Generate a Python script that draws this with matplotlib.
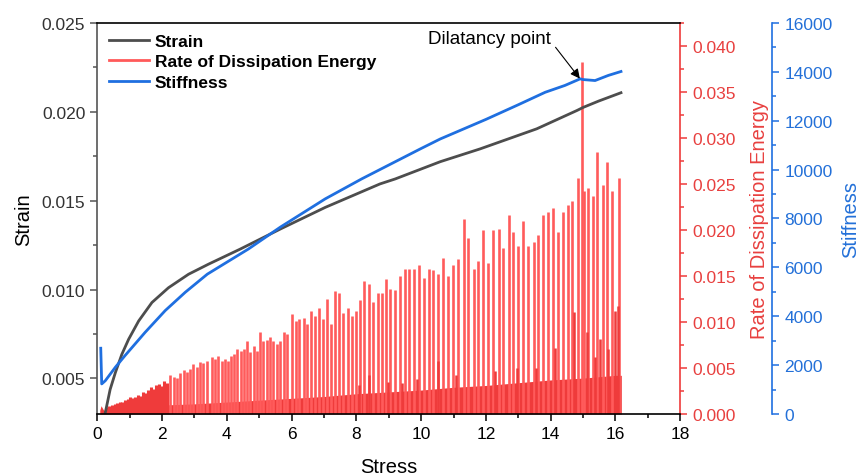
import numpy as np
import matplotlib
matplotlib.use('Agg')
import matplotlib.pyplot as plt
from matplotlib.lines import Line2D
from matplotlib.ticker import MultipleLocator, FormatStrFormatter

plt.rcParams['font.family'] = ['Liberation Sans', 'DejaVu Sans']

# strain curve (left axis)
strain_x = [0.25, 0.40, 0.56, 0.76, 0.97, 1.28, 1.69, 2.20, 2.82, 3.44, 4.41, 5.65,
            7.04, 8.73, 9.20, 10.59, 11.82, 13.57, 14.81, 15.01, 15.48, 16.17]
strain_y = [0.00307, 0.00438, 0.00532, 0.00635, 0.0072, 0.00823, 0.00927, 0.0101,
            0.01086, 0.01143, 0.01227, 0.0134, 0.01462, 0.01594, 0.01622, 0.01719,
            0.01791, 0.01904, 0.02007, 0.02025, 0.0206, 0.02107]

# stiffness curve (outer right axis)
stiff_x = [0.11, 0.14, 0.25, 0.56, 0.86, 1.48, 2.10, 2.72, 3.40, 4.67, 5.65, 7.04,
           8.17, 9.97, 10.59, 12.0, 13.0, 13.83, 14.44, 14.91, 15.0, 15.37, 15.78, 16.17]
stiff_y = [2690, 1230, 1360, 1910, 2390, 3340, 4230, 4980, 5720, 6750, 7640, 8800,
           9620, 10840, 11250, 12050, 12650, 13160, 13440, 13710, 13680, 13640, 13850, 14010]

# rate of dissipation energy: lower dense band
base_x = [0.08, 0.12, 0.2, 0.5, 1.0, 1.5, 2.2, 3.0, 4.0, 5.0,
          6.0, 7.0, 8.0, 9.0, 10.0, 11.0, 12.0, 13.0, 14.0, 15.0, 16.0, 16.18]
base_y = [0.0004, 0.0009, 0.0004, 0.0006, 0.0009, 0.0010, 0.0010, 0.0011, 0.0013,
          0.0015, 0.0017, 0.0019, 0.0022, 0.0024, 0.0026, 0.0029, 0.0031, 0.0034,
          0.0037, 0.0039, 0.0042, 0.0042]

# early, closely packed bursts
early_x = [0.30, 0.38, 0.46, 0.54, 0.62, 0.70, 0.78, 0.86, 0.94, 1.02, 1.10, 1.18,
           1.26, 1.34, 1.42, 1.50, 1.58, 1.66, 1.74, 1.82, 1.90, 1.98, 2.06, 2.14]
early_y = [0.0008, 0.0009, 0.0010, 0.0011, 0.0012, 0.0013, 0.0013, 0.0015, 0.0016,
           0.0018, 0.0017, 0.0019, 0.0021, 0.0020, 0.0024, 0.0023, 0.0026, 0.0029,
           0.0027, 0.0031, 0.0033, 0.0030, 0.0036, 0.0034]

# rate of dissipation energy: spike peaks
spike_x = [2.25, 2.36, 2.46, 2.56, 2.67, 2.77, 2.87, 2.97, 3.08, 3.18, 3.28, 3.38,
           3.54, 3.64, 3.74, 3.85, 3.95, 4.05, 4.13, 4.23, 4.33, 4.43, 4.54, 4.62,
           4.72, 4.83, 4.93, 5.03, 5.13, 5.24, 5.34, 5.44, 5.55, 5.65, 5.77, 5.87,
           6.01, 6.14, 6.24, 6.37, 6.47, 6.59, 6.73, 6.85, 6.97, 7.09,
           7.22, 7.35, 7.47, 7.60, 7.73, 7.86, 7.99, 8.12, 8.25, 8.38, 8.53, 8.66,
           8.79, 8.92, 9.05, 9.20, 9.35, 9.51, 9.64, 9.79, 9.95, 10.09, 10.24, 10.38,
           10.53, 10.69, 10.82, 10.98, 11.15, 11.31, 11.46, 11.62, 11.77, 11.92,
           12.08, 12.23, 12.39, 12.54, 12.70, 12.85, 13.00, 13.16, 13.31, 13.47,
           13.62, 13.77, 13.93, 14.08, 14.22, 14.37, 14.53, 14.67, 14.83, 14.96,
           15.04, 15.14, 15.32, 15.44, 15.60, 15.73, 15.88, 16.10]
spike_y = [0.0042, 0.0040, 0.0039, 0.0044, 0.0048, 0.0046, 0.0049, 0.0054, 0.0051,
           0.0056, 0.0055, 0.0058,
           0.00616, 0.00598, 0.00634, 0.00580, 0.00598, 0.00580, 0.00634, 0.00652,
           0.00707, 0.00688, 0.00707, 0.00797, 0.00670, 0.00743, 0.00688, 0.00888,
           0.00797, 0.00808, 0.00833, 0.00797, 0.00761, 0.00797, 0.00888, 0.00870,
           0.01087, 0.01015, 0.01033, 0.01040, 0.00978, 0.01123, 0.01069, 0.01149,
           0.01033, 0.0125,
           0.0098, 0.0134, 0.0131, 0.0110, 0.0115, 0.0107, 0.0112, 0.0124, 0.0145,
           0.0141, 0.0122, 0.0132, 0.0132, 0.0147, 0.0136, 0.0135, 0.0150, 0.0157,
           0.0158, 0.0157, 0.0162, 0.0148, 0.0157, 0.0156, 0.0152, 0.0170,
           0.0150, 0.0162, 0.0168, 0.0212, 0.0191, 0.0157, 0.0166, 0.0200, 0.0164,
           0.0200, 0.0201, 0.0180, 0.0216, 0.0198, 0.0182, 0.0210, 0.0182, 0.0187,
           0.0194, 0.0216, 0.0219,
           0.0224, 0.0198, 0.0220, 0.0227, 0.0231, 0.0256, 0.0382, 0.0242,
           0.0246, 0.0237, 0.0285, 0.0249, 0.0274, 0.0242, 0.0256]

# smaller secondary bursts
minor_x = [8.07, 8.38, 8.97, 9.42, 9.86, 10.53, 11.07, 12.28, 12.97, 13.54, 14.14,
           14.73, 15.11, 15.37, 15.52, 15.78, 15.99, 16.07]
minor_y = [0.0031, 0.0042, 0.0035, 0.0034, 0.0038, 0.0058, 0.0042, 0.0047, 0.0050,
           0.0050, 0.0072, 0.0111, 0.0089, 0.0062, 0.0082, 0.0071, 0.0112, 0.0117]

GREY = '#4d4d4d'
RED = '#ef3b3b'
SPIKE = '#ff5b5b'
BLUE = '#1f6fe0'
RED_TXT = '#e8403f'
BLUE_TXT = '#2370d8'

fig = plt.figure(figsize=(8.6, 4.77), dpi=100)
ax = fig.add_subplot(111)
fig.subplots_adjust(left=0.113, right=0.791, bottom=0.13, top=0.95)
ax2 = ax.twinx()
ax3 = ax.twinx()

ax2.set_zorder(1)
ax.set_zorder(2)
ax3.set_zorder(3)
for a in (ax, ax2, ax3):
    a.patch.set_visible(False)

# red series
ax2.fill_between(base_x, 0, base_y, color=RED, lw=0)
ax2.vlines(early_x, 0, early_y, color=RED, lw=2.2)
ax2.vlines(spike_x, 0, spike_y, color=SPIKE, lw=1.9)
ax2.vlines(minor_x, 0, minor_y, color=RED, lw=1.8)
ax2.set_ylim(0, 0.0425)

# strain
ax.plot(strain_x, strain_y, color=GREY, lw=2)
ax.set_xlim(0, 18)
ax.set_ylim(0.003, 0.025)

# stiffness
ax3.plot(stiff_x, stiff_y, color=BLUE, lw=2)
ax3.set_ylim(0, 16000)
ax3.spines['right'].set_position(('axes', 1.158))

# spines
for s in ('left', 'top', 'bottom'):
    ax2.spines[s].set_visible(False)
    ax3.spines[s].set_visible(False)
ax.spines['right'].set_visible(False)
ax2.spines['right'].set_color(RED)
ax3.spines['right'].set_color(BLUE)
ax.spines['left'].set_color('#555555')
for a in (ax, ax2, ax3):
    for s in a.spines.values():
        s.set_linewidth(1.2)

# ticks
ax.xaxis.set_major_locator(MultipleLocator(2))
ax.xaxis.set_minor_locator(MultipleLocator(1))
ax.yaxis.set_major_locator(MultipleLocator(0.005))
ax.yaxis.set_minor_locator(MultipleLocator(0.0025))
ax.yaxis.set_major_formatter(FormatStrFormatter('%.3f'))
ax.tick_params(axis='both', which='major', length=5, width=1.1, labelsize=12.5)
ax.tick_params(axis='both', which='minor', length=3, width=1.1)
ax.tick_params(axis='y', which='both', colors='#555555', labelcolor='#333333')
ax.tick_params(axis='x', labelcolor='black')

ax2.yaxis.set_major_locator(MultipleLocator(0.005))
ax2.yaxis.set_minor_locator(MultipleLocator(0.0025))
ax2.yaxis.set_major_formatter(FormatStrFormatter('%.3f'))
ax2.tick_params(axis='y', which='major', length=5, width=1.1, colors=RED, labelsize=12.5,
                labelcolor=RED_TXT)
ax2.tick_params(axis='y', which='minor', length=3, width=1.1, colors=RED)

ax3.yaxis.set_major_locator(MultipleLocator(2000))
ax3.yaxis.set_minor_locator(MultipleLocator(1000))
ax3.tick_params(axis='y', which='major', length=5, width=1.1, colors=BLUE, labelsize=12.5,
                labelcolor=BLUE_TXT)
ax3.tick_params(axis='y', which='minor', length=3, width=1.1, colors=BLUE)

# labels
ax.set_xlabel('Stress', fontsize=14.5, labelpad=12)
ax.set_ylabel('Strain', fontsize=14.5, labelpad=6)
ax2.set_ylabel('Rate of Dissipation Energy', fontsize=14.5, color=RED_TXT, labelpad=10)
ax3.set_ylabel('Stiffness', fontsize=14.5, color=BLUE_TXT, labelpad=6)

# annotation
ax3.text(12.1, 15350, 'Dilatancy point', fontsize=13.5, ha='center', va='center')
ax3.annotate('', xy=(14.9, 13720), xytext=(14.15, 15000),
             arrowprops=dict(arrowstyle='-|>', color='black', lw=0.8,
                             mutation_scale=14, shrinkA=0, shrinkB=0))

# legend
handles = [Line2D([], [], color=GREY, lw=2),
           Line2D([], [], color='#ff5a5a', lw=2),
           Line2D([], [], color=BLUE, lw=2)]
ax3.legend(handles, ['Strain', 'Rate of Dissipation Energy', 'Stiffness'],
           loc='upper left', bbox_to_anchor=(0.008, 0.99), frameon=False,
           prop={'weight': 'bold', 'size': 12.5}, handlelength=2.3,
           handletextpad=0.35, labelspacing=0.3, borderaxespad=0)

fig.savefig('out.png', dpi=100)
